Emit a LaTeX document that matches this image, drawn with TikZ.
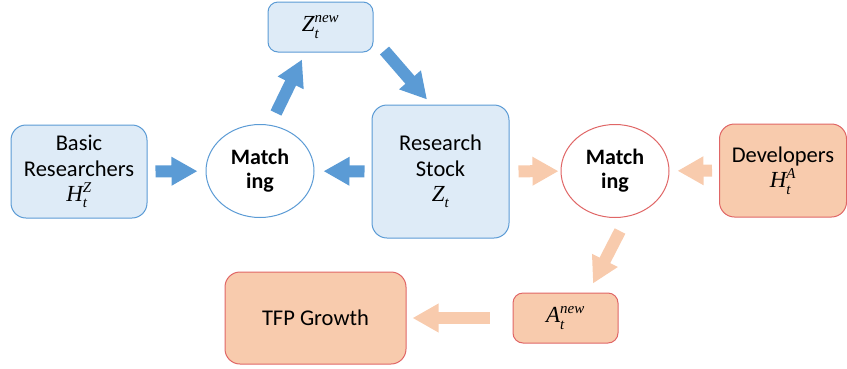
\documentclass[tikz,border=0pt]{standalone}
\usepackage{fontspec}
\setmainfont{Carlito}
\newfontfamily\tms{Liberation Serif}
\usetikzlibrary{arrows.meta,shapes.geometric}
\definecolor{blufill}{HTML}{DEEBF7}
\definecolor{bluline}{HTML}{5B9BD5}
\definecolor{orgfill}{HTML}{F8CBAD}
\definecolor{orgline}{HTML}{E06666}
\newcommand{\scr}[1]{\mbox{\tms\itshape\fontsize{15}{15}\selectfont #1}}
\newcommand{\msym}[3]{{\tms\itshape\fontsize{23}{25}\selectfont #1$_{\scr{#2}}^{\scr{#3}}$}}
\begin{document}
\begin{tikzpicture}[x=1pt, y=-1pt,
    bluebox/.style={rectangle, rounded corners=15pt, draw=bluline, fill=blufill,
        line width=1pt, inner sep=0pt, align=center, font=\fontsize{22.5}{25.5}\selectfont},
    orgbox/.style={bluebox, draw=orgline, fill=orgfill},
    match/.style={ellipse, draw=bluline, fill=white, line width=1pt,
        minimum width=108pt, minimum height=93pt, inner sep=0pt, align=center,
        font=\fontsize{22}{24}\selectfont\bfseries},
    bluarr/.style={line width=12pt, draw=bluline, -{Triangle[width=27pt,length=26pt]}},
    orgarr/.style={bluarr, draw=orgfill}
]
    \useasboundingbox (0,0) rectangle (847,368);
    \node[bluebox, minimum width=136pt, minimum height=93pt] (basic) at (79,171.5) {Basic\\Researchers\\\msym{H}{t}{Z}};
    \node[match] (mz) at (260,171) {Match\\ing};
    \node[bluebox, rounded corners=10pt, minimum width=105pt, minimum height=50pt] (znew) at (320.5,27) {\msym{Z}{t}{new}};
    \node[bluebox, minimum width=137pt, minimum height=133pt] (stock) at (440.5,171.5) {Research\\Stock\\\msym{Z}{t}{}};
    \node[match, draw=orgline] (ma) at (615,171) {Match\\ing};
    \node[orgbox, minimum width=127pt, minimum height=93pt] (dev) at (783,170.5) {Developers\\\msym{H}{t}{A}};
    \node[orgbox, rounded corners=10pt, minimum width=105pt, minimum height=50pt] (anew) at (565.5,318) {\msym{A}{t}{new}};
    \node[orgbox, minimum width=181pt, minimum height=92pt] (tfp) at (315.5,318) {TFP Growth};
    \draw[bluarr, shorten <=8pt, shorten >=8pt] (basic) -- (mz);
    \draw[bluarr] ([xshift=16pt,yshift=11pt]mz.north) -- ([xshift=-18.5pt,yshift=-7pt]znew.south);
    \draw[bluarr] ([xshift=11pt,yshift=2pt]znew.south east) -- ([xshift=-13.5pt,yshift=5pt]stock.north);
    \draw[bluarr, shorten <=7pt, shorten >=9pt] (stock) -- (mz);
    \draw[orgarr, shorten <=9pt, shorten >=2pt] (stock) -- (ma);
    \draw[orgarr, shorten <=7pt, shorten >=8pt] (dev) -- (ma);
    \draw[orgarr] ([xshift=5pt,yshift=-13pt]ma.south) -- ([xshift=27.5pt,yshift=9pt]anew.north);
    \draw[orgarr, shorten <=23pt, shorten >=6pt] (anew) -- (tfp);
\end{tikzpicture}
\end{document}
